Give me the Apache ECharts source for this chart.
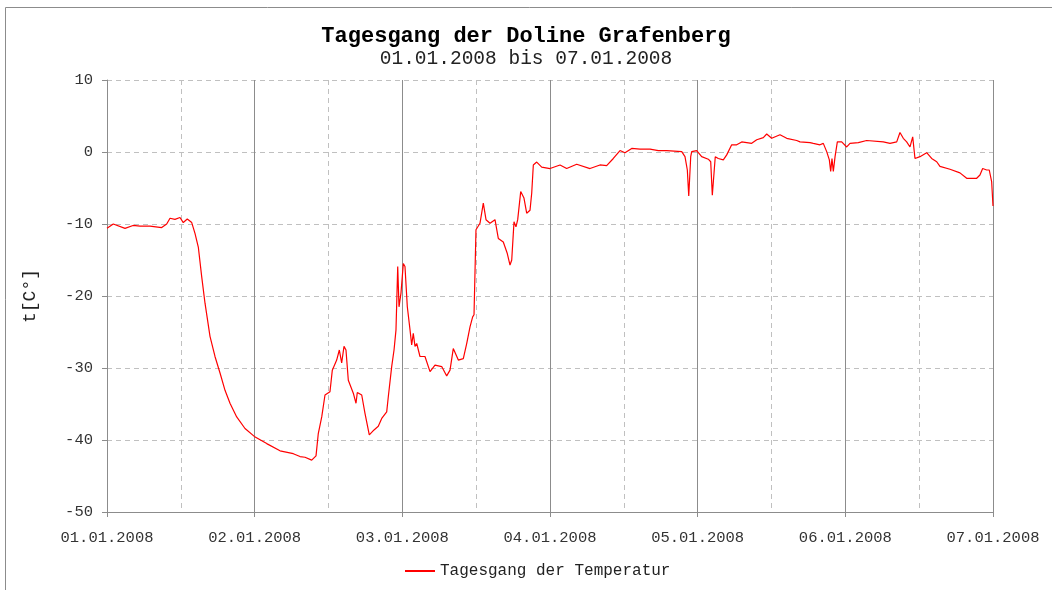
<!DOCTYPE html>
<html>
<head>
<meta charset="utf-8">
<script src="https://cdn.jsdelivr.net/npm/echarts@6/dist/echarts.min.js"></script>
<style>
html,body{margin:0;padding:0;background:#fff;}
#c{width:1052px;height:590px;}
</style>
</head>
<body>
<div id="c"></div>
<script>
// Hours since 01.01.2008 00:00
const hours = [0,1.02,2.93,4.23,5.36,6.99,8.89,9.70,10.24,11.05,11.86,12.40,13.05,13.77,14.30,14.84,15.39,15.93,16.74,17.55,18.37,19.18,19.99,21.08,22.43,23.94,25.96,28.12,30.28,31.37,32.18,33.27,33.97,34.34,34.90,35.43,36.24,36.62,37.33,37.76,38.14,38.52,38.84,39.22,40.03,40.47,40.68,41.40,41.93,42.63,43.40,44.09,44.65,45.46,45.72,46.27,46.65,46.97,47.25,47.46,47.78,48.16,48.43,48.81,49.25,49.52,49.78,50.06,50.34,50.87,51.68,52.50,53.31,54.40,55.21,55.75,56.28,57.10,57.91,58.46,59.00,59.43,59.65,59.97,60.62,61.16,61.60,62.25,63.06,63.60,64.41,65.06,65.50,65.78,66.15,66.47,66.75,67.24,67.77,68.21,68.75,69.03,69.29,69.84,70.65,72.00,73.63,74.71,76.34,78.50,80.12,81.21,82.29,83.38,84.19,85.28,86.63,88.26,89.60,90.97,93.41,93.94,94.32,94.55,94.87,95.03,95.84,96.65,97.73,98.12,98.38,98.65,98.86,99.35,100.17,100.72,101.53,102.34,103.16,104.78,105.60,106.67,107.22,108.03,109.38,110.47,112.10,112.63,114.26,114.79,115.88,116.42,116.97,117.40,117.62,117.83,118.05,118.33,118.70,119.41,120.22,120.76,122.11,123.47,126.17,127.26,128.35,128.88,129.42,129.97,130.51,130.95,131.32,132.13,133.22,134.03,134.85,135.38,137.01,138.63,139.72,141.35,141.88,142.32,142.97,143.39,143.78,144.0];
const temps = [-10.6,-10.0,-10.6,-10.2,-10.3,-10.3,-10.5,-10.0,-9.2,-9.35,-9.1,-9.8,-9.3,-9.8,-11.3,-13.2,-17.3,-21.0,-25.6,-28.4,-30.7,-33.1,-34.9,-36.8,-38.4,-39.5,-40.5,-41.5,-41.9,-42.3,-42.4,-42.8,-42.2,-39.1,-36.8,-33.75,-33.3,-30.3,-28.9,-27.5,-29.3,-27.0,-27.5,-31.7,-33.5,-34.9,-33.4,-33.75,-36.3,-39.3,-38.6,-38.1,-37.0,-36.1,-34.0,-29.8,-27.5,-24.7,-15.9,-21.5,-19.6,-15.5,-15.9,-21.5,-24.7,-26.8,-25.2,-27.0,-26.6,-28.4,-28.4,-30.5,-29.6,-29.8,-31.1,-30.3,-27.3,-28.9,-28.7,-26.6,-24.3,-22.9,-22.6,-10.8,-9.9,-7.1,-9.4,-9.9,-9.4,-12.0,-12.5,-14.1,-15.7,-15.0,-9.7,-10.4,-9.4,-5.5,-6.4,-8.5,-8.1,-5.7,-1.8,-1.4,-2.1,-2.3,-1.8,-2.3,-1.7,-2.3,-1.8,-1.9,-0.9,0.2,-0.1,0.5,0.4,0.4,0.2,0.2,0.05,-0.65,-2.5,-6.1,-0.65,0.05,0.2,-0.65,-1.0,-1.35,-6.0,-6.1,-0.65,-0.9,-1.1,-0.4,1.0,1.0,1.4,1.2,1.7,2.0,2.5,1.9,2.4,1.9,1.6,1.4,1.3,1.2,1.0,1.2,0.05,-1.1,-2.7,-0.9,-2.7,-0.65,1.4,1.4,0.7,1.2,1.3,1.6,1.4,1.2,1.4,2.7,1.9,1.4,0.7,2.1,-0.9,-0.65,-0.1,-0.9,-1.35,-2.0,-2.4,-2.9,-3.65,-3.65,-3.2,-2.3,-2.5,-2.5,-4.1,-7.5];
const dayLabels = ['01.01.2008','02.01.2008','03.01.2008','04.01.2008','05.01.2008','06.01.2008','07.01.2008'];
const yTicks = [-50,-40,-30,-20,-10,0,10];
const seriesName = 'Tagesgang der Temperatur';
const titleText = 'Tagesgang der Doline Grafenberg';
const subtitleText = '01.01.2008 bis 07.01.2008';
const yName = 't[C°]';

const FONT = '"Liberation Mono","DejaVu Sans Mono",monospace';
const chart = echarts.init(document.getElementById('c'));
chart.setOption({
  animation:false,
  backgroundColor:'#fff',
  graphic:[{type:'rect',shape:{x:5.5,y:7.5,width:1200,height:800},style:{fill:null,stroke:'#8c8c8c',lineWidth:1},silent:true}],
  title:{
    text:titleText, subtext:subtitleText, left:'center', top:20, itemGap:2,
    textStyle:{fontFamily:FONT,fontSize:22,fontWeight:'bold',color:'#000'},
    subtextStyle:{fontFamily:FONT,fontSize:19.5,color:'#222'}
  },
  legend:{
    bottom:6, left:400, itemWidth:30, itemHeight:2,
    data:[{name:seriesName,icon:'rect'}],
    textStyle:{fontFamily:FONT,fontSize:16,color:'#222'}
  },
  grid:{left:107,right:59,top:80,bottom:78},
  xAxis:[{
    type:'value', min:0, max:144, interval:24, z:2,
    axisLine:{show:true,onZero:false,lineStyle:{color:'#8c8c8c',width:1}},
    axisTick:{show:true,length:5,inside:false,lineStyle:{color:'#8c8c8c'}},
    axisLabel:{margin:18,fontFamily:FONT,fontSize:15.5,color:'#333',
      formatter:v=>dayLabels[Math.round(v/24)]},
    splitLine:{show:true,lineStyle:{color:'#8c8c8c',width:1,type:'solid'}}
  },{
    type:'value', min:0, max:144, interval:12, z:0, position:'bottom',
    axisLine:{show:false}, axisTick:{show:false}, axisLabel:{show:false},
    splitLine:{show:true,lineStyle:{color:'#c0c0c0',width:1,type:[5,4]}}
  }],
  yAxis:{
    type:'value', min:-50, max:10, interval:10,
    name:yName, nameLocation:'middle', nameGap:68, nameRotate:90,
    nameTextStyle:{fontFamily:FONT,fontSize:18,color:'#222'},
    axisLine:{show:true,lineStyle:{color:'#8c8c8c'}},
    axisTick:{show:true,length:5,lineStyle:{color:'#8c8c8c'}},
    axisLabel:{margin:14,fontFamily:FONT,fontSize:15.5,color:'#333',
      formatter:v=>yTicks.includes(v)?String(v):''},
    splitLine:{show:true,lineStyle:{color:'#c0c0c0',width:1,type:[5,4]}}
  },
  series:[{
    name:seriesName, type:'line', xAxisIndex:0, showSymbol:false, symbol:'none',
    lineStyle:{color:'#ff0000',width:1.2}, itemStyle:{color:'#ff0000'},
    data:hours.map((h,i)=>[h,temps[i]])
  }]
});
</script>
</body>
</html>
